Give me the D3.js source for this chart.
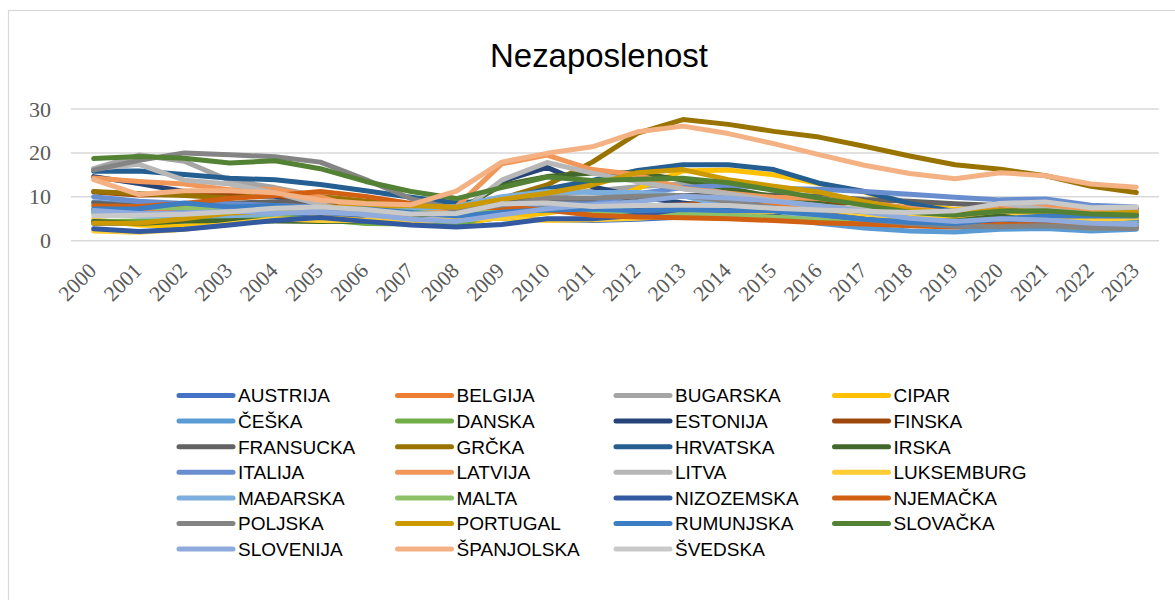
<!DOCTYPE html>
<html>
<head>
<meta charset="utf-8">
<script src="https://cdn.jsdelivr.net/npm/d3@7"></script>
<style>
  body { margin: 0; background: #fff; }
</style>
</head>
<body>
<div id="chart"></div>
<script>
// godine (x os)
const years = d3.range(2000, 2024).map(String);
const yTicks = [0, 10, 20, 30];

// stopa nezaposlenosti po drzavama (%)
const austrija   = [3.9, 4.0, 4.5, 4.8, 5.8, 5.6, 5.3, 4.9, 4.1, 5.3, 4.8, 4.6, 4.9, 5.4, 5.6, 5.7, 6.0, 5.5, 4.9, 4.8, 6.0, 6.2, 4.8, 5.1];
const belgija    = [6.9, 6.6, 7.5, 8.2, 8.4, 8.5, 8.3, 7.5, 7.0, 7.9, 8.3, 7.1, 7.5, 8.4, 8.5, 8.5, 7.8, 7.1, 6.0, 5.4, 5.6, 6.3, 5.6, 5.5];
const bugarska   = [16.4, 19.5, 18.1, 13.7, 12.1, 10.1, 9.0, 6.9, 5.6, 6.8, 10.3, 11.3, 12.3, 13.0, 11.4, 9.2, 7.6, 6.2, 5.2, 4.2, 5.1, 5.3, 4.3, 4.3];
const cipar      = [4.8, 3.6, 3.3, 4.1, 4.6, 5.3, 4.6, 3.9, 3.7, 5.4, 6.3, 7.9, 11.9, 15.9, 16.1, 15.0, 13.0, 11.1, 8.4, 7.1, 7.6, 7.5, 6.8, 5.8];
const ceska      = [8.8, 8.1, 7.3, 7.8, 8.3, 7.9, 7.1, 5.3, 4.4, 6.7, 7.3, 6.7, 7.0, 7.0, 6.1, 5.1, 4.0, 2.9, 2.2, 2.0, 2.6, 2.8, 2.2, 2.6];
const danska     = [4.3, 4.5, 4.6, 5.4, 5.5, 4.8, 3.9, 3.8, 3.5, 6.4, 7.7, 7.8, 7.8, 7.4, 6.9, 6.3, 6.0, 5.8, 5.1, 5.0, 5.6, 5.1, 4.5, 5.1];
const estonija   = [14.6, 13.0, 11.2, 10.3, 10.1, 8.0, 5.9, 4.6, 5.5, 13.5, 16.7, 12.3, 10.0, 8.6, 7.4, 6.2, 6.8, 5.8, 5.4, 4.4, 6.9, 6.2, 5.6, 6.4];
const finska     = [11.1, 10.4, 10.5, 10.5, 10.4, 8.4, 7.7, 6.9, 6.4, 8.3, 8.5, 7.8, 7.7, 8.2, 8.7, 9.4, 8.8, 8.6, 7.4, 6.7, 7.7, 7.7, 6.8, 7.2];
const fransucka  = [8.6, 7.8, 7.9, 8.5, 8.9, 8.9, 8.8, 8.0, 7.4, 9.1, 9.3, 9.2, 9.8, 10.3, 10.3, 10.4, 10.1, 9.4, 9.0, 8.4, 8.0, 7.9, 7.3, 7.3];
const grcka      = [11.2, 10.7, 10.3, 9.7, 10.6, 10.0, 9.0, 8.4, 7.8, 9.6, 12.7, 17.9, 24.5, 27.6, 26.5, 24.9, 23.6, 21.5, 19.3, 17.3, 16.3, 14.8, 12.4, 11.0];
const hrvatska   = [15.8, 15.9, 15.1, 14.2, 13.9, 12.8, 11.4, 9.9, 8.6, 9.3, 11.8, 13.7, 16.0, 17.3, 17.3, 16.2, 13.1, 11.2, 8.5, 6.6, 7.5, 7.6, 7.0, 6.1];
const irska      = [4.4, 3.9, 4.5, 4.6, 4.5, 4.4, 4.5, 5.0, 6.8, 12.6, 14.6, 15.4, 15.5, 13.8, 11.9, 10.0, 8.4, 6.7, 5.8, 5.0, 5.9, 6.2, 4.5, 4.3];
const italija    = [10.0, 9.0, 8.5, 8.4, 8.0, 7.7, 6.8, 6.1, 6.7, 7.7, 8.4, 8.4, 10.7, 12.1, 12.7, 11.9, 11.7, 11.2, 10.6, 9.9, 9.3, 9.5, 8.1, 7.7];
const latvija    = [14.3, 13.5, 12.9, 11.6, 11.7, 10.0, 7.0, 6.1, 7.7, 17.5, 19.5, 16.2, 15.0, 11.9, 10.8, 9.9, 9.6, 8.7, 7.4, 6.3, 8.1, 7.6, 6.9, 6.5];
const litva      = [16.4, 17.4, 13.8, 12.9, 10.9, 8.3, 5.8, 4.3, 5.8, 13.8, 17.8, 15.4, 13.4, 11.8, 10.7, 9.1, 7.9, 7.1, 6.2, 6.3, 8.5, 7.1, 6.0, 6.9];
const luksemburg = [2.2, 1.9, 2.6, 3.8, 5.0, 4.6, 4.6, 4.2, 4.9, 5.1, 4.6, 4.8, 5.1, 5.8, 5.9, 6.7, 6.3, 5.5, 5.6, 5.6, 6.8, 5.3, 4.6, 5.2];
const madarska   = [6.3, 5.6, 5.6, 5.7, 6.1, 7.2, 7.5, 7.4, 7.8, 10.0, 11.2, 11.0, 11.0, 10.2, 7.7, 6.8, 5.1, 4.2, 3.7, 3.4, 4.3, 4.1, 3.6, 4.1];
const malta      = [6.7, 7.6, 7.5, 7.6, 7.4, 7.2, 6.9, 6.5, 6.0, 6.9, 6.9, 6.4, 6.2, 6.1, 5.7, 5.4, 4.7, 4.0, 3.7, 3.6, 4.4, 3.5, 2.9, 3.1];
const nizozemska = [2.7, 2.1, 2.6, 3.6, 4.6, 5.3, 4.4, 3.6, 3.1, 3.7, 5.0, 5.0, 5.8, 7.3, 7.4, 6.9, 6.0, 4.9, 3.8, 3.4, 3.8, 4.2, 3.5, 3.6];
const njemacka   = [7.9, 7.8, 8.5, 9.6, 10.3, 11.2, 10.1, 8.5, 7.4, 7.6, 7.0, 5.8, 5.4, 5.2, 5.0, 4.6, 4.1, 3.8, 3.4, 3.1, 3.7, 3.6, 3.1, 3.0];
const poljska    = [16.1, 18.3, 20.0, 19.6, 19.1, 17.9, 13.9, 9.6, 7.1, 8.1, 9.7, 9.7, 10.1, 10.3, 9.0, 7.5, 6.2, 4.9, 3.9, 3.3, 3.2, 3.4, 2.9, 2.8];
const portugal   = [4.0, 4.0, 5.0, 6.3, 6.6, 7.6, 7.7, 8.0, 7.6, 9.4, 10.8, 12.7, 15.5, 16.2, 13.9, 12.4, 11.1, 8.9, 7.0, 6.5, 6.9, 6.6, 6.1, 6.5];
const rumunjska  = [7.2, 7.3, 8.6, 7.7, 8.0, 7.1, 7.2, 6.4, 5.6, 6.5, 7.0, 7.2, 6.8, 7.1, 6.8, 6.8, 5.9, 4.9, 4.2, 3.9, 5.0, 5.6, 5.6, 5.6];
const slovacka   = [18.7, 19.2, 18.8, 17.7, 18.2, 16.4, 13.5, 11.2, 9.6, 12.1, 14.5, 13.7, 14.0, 14.2, 13.2, 11.5, 9.7, 8.1, 6.5, 5.8, 6.7, 6.8, 6.1, 5.8];
const slovenija  = [6.9, 6.2, 6.3, 6.7, 6.3, 6.5, 6.0, 4.9, 4.4, 5.9, 7.3, 8.2, 8.9, 10.1, 9.7, 9.0, 8.0, 6.6, 5.1, 4.4, 5.0, 4.7, 4.0, 3.7];
const spanjolska = [13.9, 10.5, 11.4, 11.4, 10.9, 9.2, 8.5, 8.2, 11.3, 17.9, 19.9, 21.4, 24.8, 26.1, 24.4, 22.1, 19.6, 17.2, 15.3, 14.1, 15.5, 14.8, 12.9, 12.2];
const svedska    = [5.6, 5.8, 6.0, 6.6, 7.4, 7.7, 7.1, 6.1, 6.2, 8.4, 8.6, 7.8, 8.0, 8.1, 8.0, 7.4, 7.0, 6.7, 6.4, 6.8, 8.5, 8.8, 7.5, 7.7];

const countries = ["AUSTRIJA", "BELGIJA", "BUGARSKA", "CIPAR", "ČEŠKA", "DANSKA", "ESTONIJA", "FINSKA",
  "FRANSUCKA", "GRČKA", "HRVATSKA", "IRSKA", "ITALIJA", "LATVIJA", "LITVA", "LUKSEMBURG",
  "MAĐARSKA", "MALTA", "NIZOZEMSKA", "NJEMAČKA", "POLJSKA", "PORTUGAL", "RUMUNJSKA", "SLOVAČKA",
  "SLOVENIJA", "ŠPANJOLSKA", "ŠVEDSKA"];
const values = [austrija, belgija, bugarska, cipar, ceska, danska, estonija, finska,
  fransucka, grcka, hrvatska, irska, italija, latvija, litva, luksemburg,
  madarska, malta, nizozemska, njemacka, poljska, portugal, rumunjska, slovacka,
  slovenija, spanjolska, svedska];
const colors = ["#4472C4", "#ED7D31", "#A5A5A5", "#FFC000", "#5B9BD5", "#70AD47", "#264478", "#9E480E",
  "#636363", "#997300", "#255E91", "#43682B", "#698ED0", "#F1975A", "#B7B7B7", "#FFCD33",
  "#7CAFDD", "#8CC168", "#335AA1", "#D26012", "#848484", "#CC9A00", "#3C7DC4", "#548235",
  "#8FAADC", "#F4B183", "#C9C9C9"];

const W = 1175, H = 600;
const svg = d3.select("#chart").append("svg")
    .attr("width", W).attr("height", H)
    .style("display", "block");

// okvir grafikona
svg.append("rect")
    .attr("x", 8.5).attr("y", 10.5)
    .attr("width", 1180).attr("height", 600)
    .attr("fill", "#fff").attr("stroke", "#D9D9D9").attr("stroke-width", 1.2);

const sans = "'Liberation Sans', Arial, sans-serif";
const serif = "'Liberation Serif', 'Times New Roman', serif";

// naslov
var title = svg.append("text")
    .attr("x", 599).attr("y", 67)
    .attr("text-anchor", "middle")
    .style("font-family", sans).style("font-size", "30px")
    .attr("fill", "#000")
    .text("Nezaposlenost");
var tw = title.node().getComputedTextLength();
title.style("font-size", (30 * 218 / tw) + "px");

var plotLeft = 71, plotRight = 1159;

var x = d3.scaleBand()
    .domain(years)
    .range([plotLeft, plotRight]);

var y = d3.scaleLinear()
    .domain([0, 30])
    .range([240.7, 109]);

// mreza
svg.append("g")
    .selectAll("line")
    .data(yTicks)
    .enter()
    .append("line")
    .attr("x1", plotLeft).attr("x2", plotRight)
    .attr("y1", d => y(d)).attr("y2", d => y(d))
    .attr("stroke", "#D9D9D9").attr("stroke-width", 1.5);

// y os
var yAxis = svg.append("g")
    .attr("transform", "translate(51,0)")
    .call(d3.axisLeft(y).tickValues(yTicks).tickSize(0).tickPadding(0));
yAxis.select(".domain").remove();
yAxis.selectAll("text")
    .style("font-family", serif).style("font-size", "22px")
    .attr("fill", "#595959");

// x os
var xAxis = svg.append("g")
    .attr("transform", "translate(0,241)")
    .call(d3.axisBottom(x).tickSize(0));
xAxis.select(".domain").remove();
xAxis.selectAll("text")
    .style("font-family", serif).style("font-size", "21.5px")
    .attr("fill", "#595959")
    .attr("text-anchor", "end")
    .attr("y", 0).attr("dy", 0)
    .attr("transform", "translate(4,31) rotate(-45)");

// linije
var line = d3.line()
    .x((d, i) => x(years[i]) + x.bandwidth() / 2)
    .y(d => y(d));

svg.append("g")
    .selectAll("path")
    .data(values)
    .enter()
    .append("path")
    .attr("d", d => line(d))
    .attr("fill", "none")
    .attr("stroke", (d, i) => colors[i])
    .attr("stroke-width", 5)
    .attr("stroke-linejoin", "round")
    .attr("stroke-linecap", "round");

// legenda
var legX = [179, 397.5, 616, 834.5];
var legY = 395.5, rowH = 25.6;
var legend = svg.append("g");
var items = legend.selectAll("g")
    .data(countries)
    .enter()
    .append("g")
    .attr("transform", (d, i) => "translate(" + legX[i % 4] + "," + (legY + Math.floor(i / 4) * rowH) + ")");
items.append("line")
    .attr("x1", 0).attr("x2", 54)
    .attr("stroke", (d, i) => colors[i])
    .attr("stroke-width", 5)
    .attr("stroke-linecap", "round");
var legText = items.append("text")
    .attr("x", 59).attr("dy", "0.36em")
    .style("font-family", sans)
    .style("font-size", "20px")
    .attr("fill", "#000")
    .text(d => d);
var aw = legText.filter((d, i) => i === 0).node().getComputedTextLength();
legText.style("font-size", (20 * 92 / aw) + "px");
</script>
</body>
</html>
